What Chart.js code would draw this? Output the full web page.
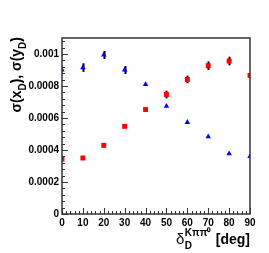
<!DOCTYPE html>
<html>
<head>
<meta charset="utf-8">
<script src="https://cdn.jsdelivr.net/npm/chart.js@4/dist/chart.umd.min.js"></script>
<style>
html,body{margin:0;padding:0;background:#fff;}
#c{display:block;}
</style>
</head>
<body>
<canvas id="c" width="269" height="253"></canvas>
<script>
// Data
const deltaDeg = [0, 10, 20, 30, 40, 50, 60, 70, 80, 90];
const sigmaX = [0.000343, 0.000350, 0.000429, 0.000548, 0.000653, 0.000747, 0.000841, 0.000927, 0.000956, 0.000866];
const sigmaY = [0.000900, 0.000915, 0.000994, 0.000900, 0.000810, 0.000674, 0.000573, 0.000483, 0.000377, 0.000360];
const errX = [0, 0, 0, 0, 0, 0.000024, 0.000024, 0.000027, 0.000027, 0];
const errY = [0, 0.000027, 0.000025, 0.000025, 0, 0, 0, 0, 0, 0];
const xTicks = [0, 10, 20, 30, 40, 50, 60, 70, 80, 90];
const yTicks = [0, 0.0002, 0.0004, 0.0006, 0.0008, 0.001];

const FONT = "'Liberation Sans', Arial, Helvetica, sans-serif";
const AXIS_COLOR = '#333';

const toPts = (ys, errs) => deltaDeg.map((x, i) => ({x: x, y: ys[i], e: errs[i]}));

const errorBars = {
  id: 'errorBars',
  beforeDatasetsDraw(chart) {
    const ctx = chart.ctx, xs = chart.scales.x, ys = chart.scales.y;
    ctx.save();
    ctx.strokeStyle = '#000';
    ctx.lineWidth = 2;
    chart.data.datasets.forEach(ds => {
      ds.data.forEach(p => {
        if (!p.e) return;
        const px = Math.round(xs.getPixelForValue(p.x)) + 0.5;
        ctx.beginPath();
        ctx.moveTo(px, ys.getPixelForValue(p.y - p.e));
        ctx.lineTo(px, ys.getPixelForValue(p.y + p.e));
        ctx.stroke();
      });
    });
    ctx.restore();
  }
};

const frame = {
  id: 'frame',
  afterDraw(chart) {
    const ctx = chart.ctx, a = chart.chartArea, xs = chart.scales.x, ys = chart.scales.y;
    ctx.save();
    ctx.strokeStyle = AXIS_COLOR;
    ctx.lineWidth = 1.5;
    ctx.strokeRect(a.left, a.top, a.right - a.left, a.bottom - a.top);
    ctx.lineWidth = 1;
    // x ticks (inside)
    for (let v = 0; v <= 90.0001; v += 2) {
      const px = Math.round(xs.getPixelForValue(v)) + 0.5;
      const major = Math.abs(v % 10) < 1e-6;
      ctx.beginPath();
      ctx.moveTo(px, a.bottom);
      ctx.lineTo(px, a.bottom - (major ? 6 : 3));
      ctx.stroke();
    }
    // y ticks (inside)
    for (let k = 0; k * 0.00004 <= 0.0011 + 1e-9; k++) {
      const v = k * 0.00004;
      const py = Math.round(ys.getPixelForValue(v)) + 0.5;
      const major = k % 5 === 0;
      ctx.beginPath();
      ctx.moveTo(a.left, py);
      ctx.lineTo(a.left + (major ? 6 : 3), py);
      ctx.stroke();
    }
    ctx.restore();

    // Axis titles
    ctx.save();
    ctx.fillStyle = '#000';
    ctx.textBaseline = 'alphabetic';
    // X title: δ_D^{Kππ0} [deg], right aligned to axis end
    const big = 'bold 14px ' + FONT, small = 'bold 10px ' + FONT, greek = '15px ' + FONT;
    ctx.font = greek; const wDelta = ctx.measureText('δ').width;
    ctx.font = big; const wDeg = ctx.measureText(' [deg]').width;
    ctx.font = small; const wSub = ctx.measureText('D').width; const wSup = ctx.measureText('Kππ⁰').width;
    const wAll = wDelta + Math.max(wSub, wSup) + 1 + wDeg;
    let x0 = a.right - wAll, base = 244;
    ctx.font = greek; ctx.fillText('δ', x0, base);
    ctx.font = small;
    ctx.fillText('Kππ⁰', x0 + wDelta + 0.5, base - 8);
    ctx.fillText('D', x0 + wDelta + 0.5, base + 5);
    ctx.font = big; ctx.fillText(' [deg]', x0 + wDelta + Math.max(wSub, wSup) + 1, base);

    // Y title: σ(x_D), σ(y_D) rotated, right aligned to top of axis
    const parts = [['σ(x', big, 0], ['D', small, 5], ['), σ(y', big, 0], ['D', small, 5], [')', big, 0]];
    let W = 0;
    parts.forEach(p => { ctx.font = p[1]; W += ctx.measureText(p[0]).width; });
    ctx.translate(21, a.top - 1);
    ctx.rotate(-Math.PI / 2);
    let u = -W;
    parts.forEach(p => { ctx.font = p[1]; ctx.fillText(p[0], u, p[2]); u += ctx.measureText(p[0]).width; });
    ctx.restore();
  }
};

new Chart(document.getElementById('c'), {
  type: 'scatter',
  data: {
    datasets: [
      {label: 'σ(x_D)', data: toPts(sigmaX, errX), pointStyle: 'rect', pointRadius: 3.5, pointHoverRadius: 3.5,
       backgroundColor: '#ff0000', borderColor: '#ff0000', borderWidth: 0},
      {label: 'σ(y_D)', data: toPts(sigmaY, errY), pointStyle: 'triangle', pointRadius: 3.2, pointHoverRadius: 3.2,
       backgroundColor: '#0000ff', borderColor: '#0000ff', borderWidth: 0}
    ]
  },
  options: {
    responsive: false,
    animation: false,
    events: [],
    layout: {padding: {left: 0, right: 19, top: 38, bottom: 0}},
    plugins: {legend: {display: false}, tooltip: {enabled: false}, title: {display: false}},
    scales: {
      x: {
        type: 'linear', min: 0, max: 90,
        grid: {display: false, drawTicks: false, tickLength: 0}, border: {display: false},
        afterBuildTicks: s => { s.ticks = xTicks.map(v => ({value: v})); },
        ticks: {font: {family: FONT, size: 10, weight: 'bold'}, color: '#000', padding: 3, maxRotation: 0, autoSkip: false},
        afterFit: s => { s.height = 39; }
      },
      y: {
        type: 'linear', min: 0, max: 0.0011,
        grid: {display: false, drawTicks: false, tickLength: 0}, border: {display: false},
        afterBuildTicks: s => { s.ticks = yTicks.map(v => ({value: v})); },
        ticks: {font: {family: FONT, size: 10, weight: 'bold'}, color: '#000', padding: 3, autoSkip: false,
          callback: v => String(Number(Number(v).toPrecision(6)))},
        afterFit: s => { s.width = 62; }
      }
    }
  },
  plugins: [errorBars, frame]
});
</script>
</body>
</html>
